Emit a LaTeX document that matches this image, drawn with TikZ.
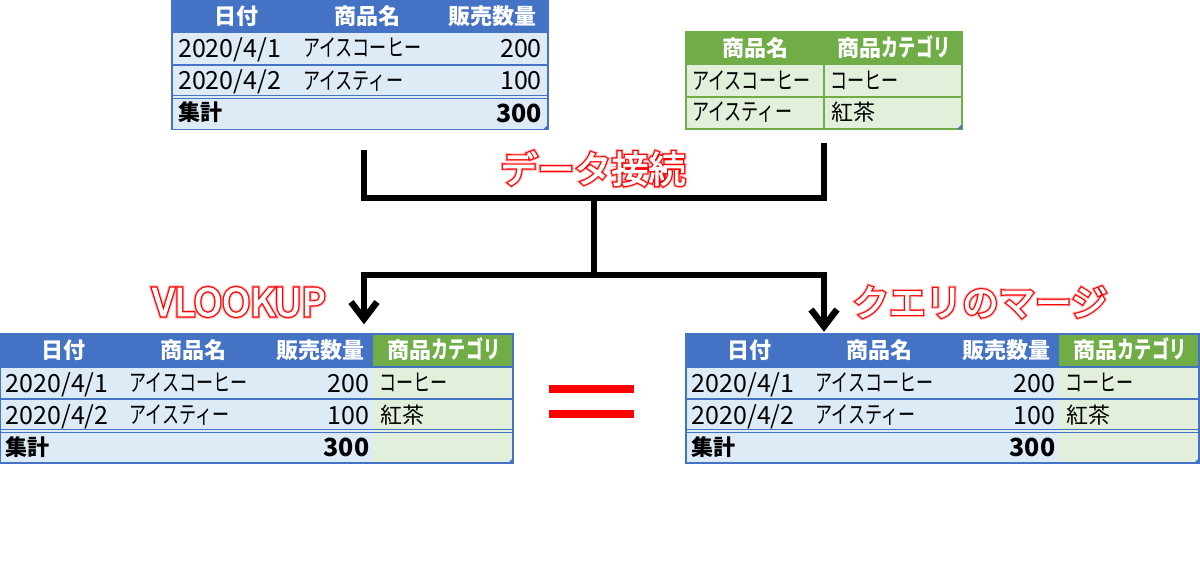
\documentclass[tikz,border=0pt]{standalone}
\usepackage{fontspec}
\setmainfont{Noto Sans CJK JP}
\newfontfamily\glowfont[FakeBold=14]{Noto Sans CJK JP}
\newfontfamily\edgefont[FakeBold=9]{Noto Sans CJK JP}
\newfontfamily\corefont[FakeBold=2.5]{Noto Sans CJK JP}
\definecolor{hblue}{HTML}{4472C4}
\definecolor{lblue}{HTML}{DDEBF7}
\definecolor{hgreen}{HTML}{70AD47}
\definecolor{lgreen}{HTML}{E2EFDA}
\definecolor{glowred}{HTML}{FFB0B0}
\newcommand{\kn}[1]{\scalebox{0.71}[1]{\fontsize{24}{24}\selectfont #1}}
\tikzset{
  cell/.style={inner sep=0pt,font=\fontsize{22}{22}\selectfont,text=black,anchor=base west},
  cellr/.style={cell,anchor=base east},
  num/.style={cell,font=\fontsize{25}{25}\selectfont},
  numr/.style={num,anchor=base east},
  hcell/.style={inner sep=0pt,font=\fontsize{22}{22}\selectfont\bfseries,text=white,anchor=base},
  hcellr/.style={hcell,anchor=base east},
  tcell/.style={cell,font=\fontsize{22}{22}\selectfont\bfseries},
  tnumr/.style={cell,anchor=base east,font=\fontsize{25}{25}\selectfont\bfseries},
  rowline/.style={line width=1.6pt},
  conn/.style={draw=black,line width=6pt,line cap=butt,line join=miter},
  head/.style={conn,line width=6.5pt},
  eqbar/.style={fill=red,draw=none},
}
% wordart: #1 name, #2 x, #3 y, #4 size, #5 text
\newcommand{\wordart}[5]{%
  \node[inner sep=0pt,text=glowred,font=\fontsize{#4}{#4}\glowfont] at (#2,#3) {#5};
  \node[inner sep=0pt,text=red,font=\fontsize{#4}{#4}\edgefont] at (#2,#3) {#5};
  \node[inner sep=0pt,text=white,font=\fontsize{#4}{#4}\corefont] (#1) at (#2,#3) {#5};
}
% wide table: #1 name, #2 x offset, #3 y offset
\newcommand{\widetable}[3]{%
  \begin{scope}[shift={(#2,#3)}]
    \fill[lblue] (0,0) rectangle (373,129);
    \fill[lgreen] (373,0) rectangle (513,129);
    \fill[hblue] (0,0) rectangle (373,33);
    \fill[hgreen] (373,0) rectangle (513,33);
    \draw[hblue,rowline] (0,33) -- (513,33);
    \draw[hblue,rowline] (0,65) -- (513,65);
    \draw[hblue,rowline] (0,95.5) -- (513,95.5);
    \draw[hblue,rowline] (0,98.5) -- (513,98.5);
    \draw[hblue,line width=1.6pt] (0,0) rectangle (513,129);
    \fill[hblue] (508,129) -- (513,129) -- (513,124) -- cycle;
    \node[hcell] at (63,24.5) {日付};
    \node[hcell] at (193,24.5) {商品名};
    \node[hcellr] at (365,24.5) {販売数量};
    \node[hcell] at (444,24.5) {商品\kn{カテゴリ}};
    \node[num] at (5.5,58) {2020/4/1};
    \node[cell] at (129.5,57) {\kn{アイスコーヒー}};
    \node[numr] at (369.5,58) {200};
    \node[cell] at (379.5,57) {\kn{コーヒー}};
    \node[num] at (5.5,90) {2020/4/2};
    \node[cell] at (129.5,89) {\kn{アイスティー}};
    \node[numr] at (369.5,90) {100};
    \node[cell] at (380,89) {紅茶};
    \node[tcell] at (5.5,121) {集計};
    \node[tnumr] at (369.5,122) {300};
    \coordinate (#1) at (0,0);
  \end{scope}
}
\begin{document}
\begin{tikzpicture}[x=1pt,y=-1pt]
\useasboundingbox (0,0) rectangle (1200,578);
\fill[white] (0,0) rectangle (1200,578);
% top-left table
\begin{scope}[shift={(172,0)}]
  \fill[lblue] (0,0) rectangle (376,130);
  \fill[hblue] (0,0) rectangle (376,33);
  \draw[hblue,rowline] (0,65) -- (376,65);
  \draw[hblue,rowline] (0,95.5) -- (376,95.5);
  \draw[hblue,rowline] (0,98.5) -- (376,98.5);
  \draw[hblue,line width=1.6pt] (0,0) rectangle (376,129.5);
  \fill[hblue] (371,129.5) -- (376,129.5) -- (376,124.5) -- cycle;
  \node[hcell] at (64,24.5) {日付};
  \node[hcell] at (195,24.5) {商品名};
  \node[hcellr] at (365,24.5) {販売数量};
  \node[num] at (6,58) {2020/4/1};
  \node[cell] at (131,57) {\kn{アイスコーヒー}};
  \node[numr] at (370,58) {200};
  \node[num] at (6,90) {2020/4/2};
  \node[cell] at (131,89) {\kn{アイスティー}};
  \node[numr] at (370,90) {100};
  \node[tcell] at (6,121) {集計};
  \node[tnumr] at (370,122) {300};
\end{scope}
% top-right table
\begin{scope}[shift={(686,32)}]
  \fill[lgreen] (0,0) rectangle (276,97);
  \fill[hgreen] (0,0) rectangle (276,32);
  \draw[hgreen,rowline] (0,32) -- (276,32);
  \draw[hgreen,rowline] (0,65) -- (276,65);
  \draw[hgreen,rowline] (138,32) -- (138,97);
  \draw[hgreen,line width=1.6pt] (0,0) rectangle (276,97);
  \fill[hblue] (271,97) -- (276,97) -- (276,92) -- cycle;
  \node[hcell] at (69,24.5) {商品名};
  \node[hcell] at (208,24.5) {商品\kn{カテゴリ}};
  \node[cell] at (6,57) {\kn{アイスコーヒー}};
  \node[cell] at (144,57) {\kn{コーヒー}};
  \node[cell] at (6,89) {\kn{アイスティー}};
  \node[cell] at (145,89) {紅茶};
\end{scope}
\widetable{tl}{0}{334}
\widetable{tr}{686}{334}
% connectors
\coordinate (a1) at (364,150);
\coordinate (a2) at (824,143);
\coordinate (j1) at (593.5,198);
\coordinate (j2) at (593.5,275);
\coordinate (b1) at (364,319);
\coordinate (b2) at (824,326.5);
\coordinate (h1l) at (351,302);
\coordinate (h1r) at (377,302);
\coordinate (h2l) at (811,309.5);
\coordinate (h2r) at (837,309.5);
\draw[conn] (a1) |- (j1) -| (a2);
\draw[conn] (j1) -- (j2);
\draw[conn] (b1) |- (j2) -| (b2);
\draw[head] (h1l) -- (b1) -- (h1r);
\draw[head] (h2l) -- (b2) -- (h2r);
% equals sign
\fill[eqbar] (549,385) rectangle (634,393);
\fill[eqbar] (549,410) rectangle (634,418);
% word art labels
\wordart{da}{593}{168.5}{37}{データ接続}
\wordart{vl}{239}{302}{38}{VLOOKUP}
\wordart{qm}{980}{302}{36.5}{クエリのマージ}
\end{tikzpicture}
\end{document}
